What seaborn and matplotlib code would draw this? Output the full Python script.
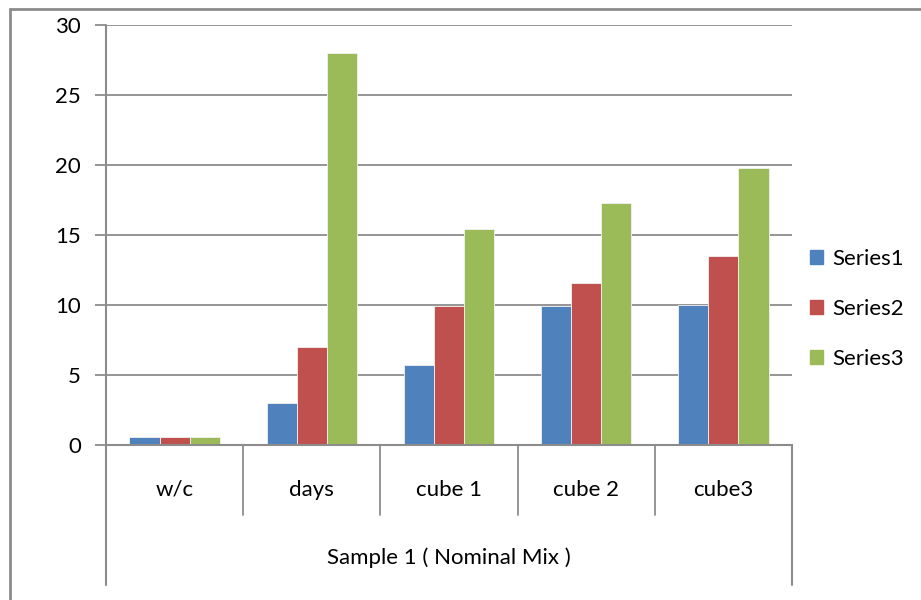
import matplotlib
matplotlib.use("Agg")
import matplotlib.pyplot as plt
import matplotlib.transforms as mtransforms
from matplotlib.lines import Line2D
import seaborn as sns
import pandas as pd

categories = ["w/c", "days", "cube 1", "cube 2", "cube3"]
series_names = ["Series1", "Series2", "Series3"]
series1 = [0.6, 3.0, 5.7, 9.9, 10.0]
series2 = [0.6, 7.0, 9.9, 11.55, 13.5]
series3 = [0.6, 28.0, 15.4, 17.3, 19.8]
y_ticks = [0, 5, 10, 15, 20, 25, 30]
group_label = "Sample 1 ( Nominal Mix )"
colors = ["#4F81BD", "#C0504D", "#9BBB59"]

df = pd.DataFrame({
    "category": categories * 3,
    "series": [s for s in series_names for _ in categories],
    "value": series1 + series2 + series3,
})

sns.set_theme(style="white")
plt.rcParams["font.family"] = ["Lato", "DejaVu Sans"]
plt.rcParams["text.color"] = "black"

fig = plt.figure(figsize=(9.21, 6.0), dpi=100)
ax = fig.add_axes([106/921, 1-445/600, (792-106)/921, (445-25)/600])

sns.barplot(data=df, x="category", y="value", hue="series", order=categories,
            hue_order=series_names, palette=colors, width=0.66, ax=ax,
            edgecolor="#f2f2f2", linewidth=0.6, saturation=1, legend=False)

gray = "#8c8c8c"
fs = 16
ax.set_ylim(0, 30)
ax.set_xlim(-0.5, len(categories) - 0.5)
ax.set_yticks(y_ticks)
ax.yaxis.grid(True, color=gray, linewidth=1.3)
ax.set_axisbelow(True)
for s in ["top", "right"]:
    ax.spines[s].set_visible(False)
ax.spines["left"].set_visible(False)
ax.spines["bottom"].set_color(gray)
ax.spines["bottom"].set_linewidth(1.5)
ax.tick_params(axis="y", direction="out", length=8, width=1.3, color=gray,
               labelsize=fs, pad=10, left=True, labelcolor="black")
ax.tick_params(axis="x", length=0, labelsize=fs, pad=25, labelcolor="black")
ax.set_xlabel(group_label, fontsize=fs, labelpad=34, color="black")
ax.set_ylabel("")

# category axis dividers (Excel-style multi-level axis)
trans = mtransforms.blended_transform_factory(ax.transData, ax.transAxes)
for k in range(1, len(categories)):
    ax.add_line(Line2D([k - 0.5, k - 0.5], [0, -70/420], transform=trans,
                       color=gray, linewidth=1.3, clip_on=False))
for xk in [-0.5, len(categories) - 0.5]:
    ax.add_line(Line2D([xk, xk], [1 if xk < 0 else 0, -140/420], transform=trans,
                       color=gray, linewidth=1.5, clip_on=False))

# outer chart frame (top & left visible)
fig.add_artist(Line2D([10/921, 1.0], [1-9/600, 1-9/600], transform=fig.transFigure,
                      color=gray, linewidth=2))
fig.add_artist(Line2D([10/921, 10/921], [1-9/600, 0], transform=fig.transFigure,
                      color=gray, linewidth=2))

handles = [plt.Rectangle((0, 0), 1, 1, color=c) for c in colors]
fig.legend(handles, series_names, loc="center left",
           bbox_to_anchor=(790/921, 1-309/600), frameon=False, fontsize=fs,
           handlelength=0.6, handleheight=0.6, handletextpad=0.4,
           labelspacing=1.35)

fig.savefig("out.png", dpi=100)
